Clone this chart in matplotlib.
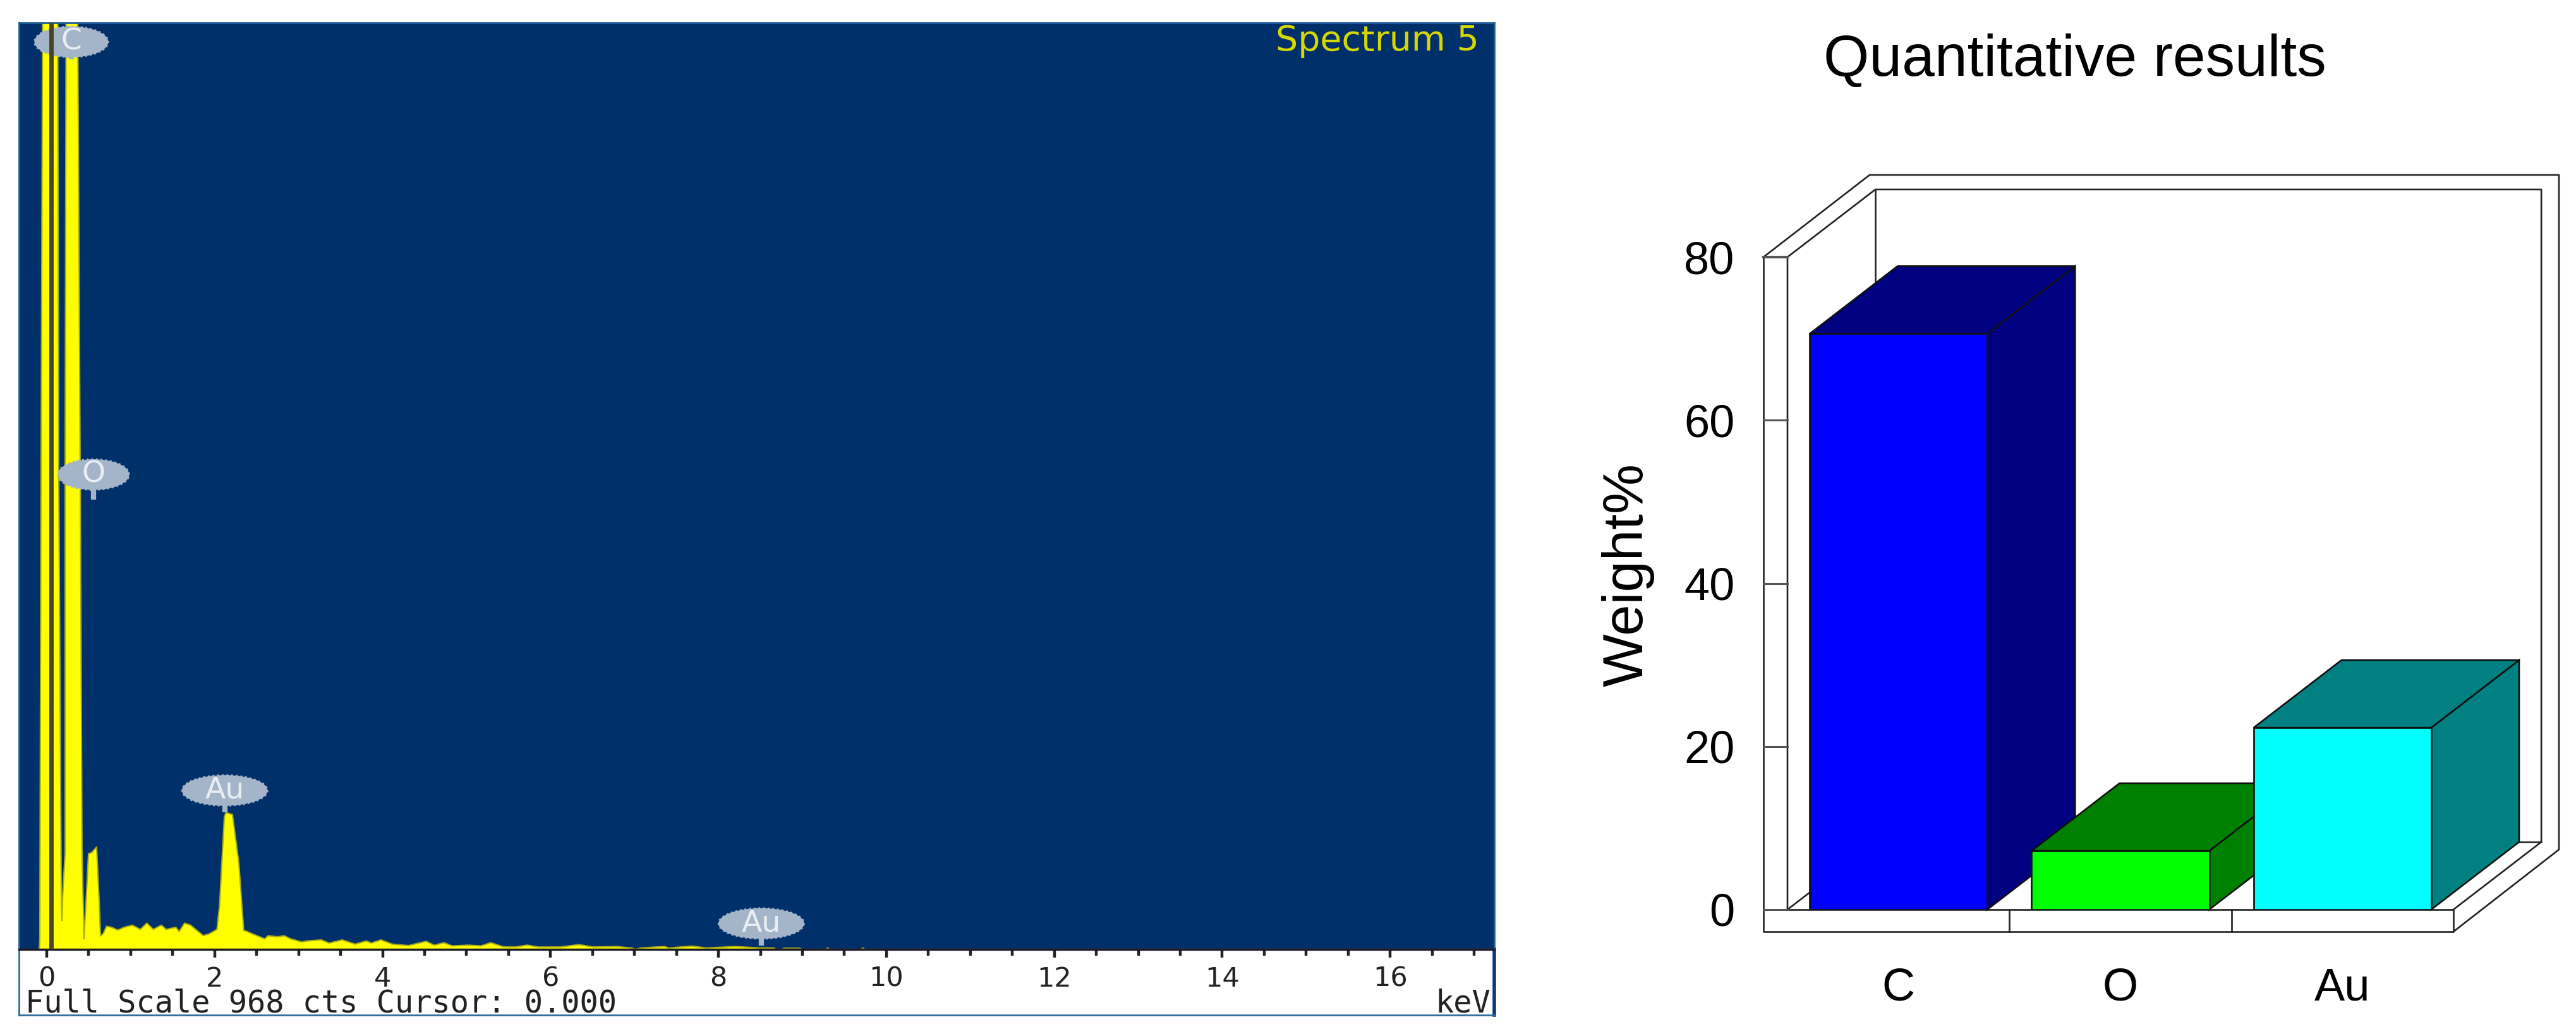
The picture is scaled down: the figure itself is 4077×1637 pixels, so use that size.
import matplotlib
matplotlib.use("Agg")
import matplotlib.pyplot as plt
from matplotlib.patches import Ellipse, Polygon

W, H = 4077, 1637

# EDS spectrum (keV, counts)
energy = [-0.09, -0.083, -0.068, -0.045, 0.128, 0.143, 0.173, 0.18, 0.192, 0.218, 0.218, 0.233,
          0.361, 0.399, 0.421, 0.444, 0.474, 0.497, 0.534, 0.594, 0.625, 0.64,
          0.673, 0.712, 0.769, 0.846, 0.923, 1.019, 1.115, 1.192, 1.269, 1.365, 1.423, 1.538,
          1.577, 1.642, 1.712, 1.865, 1.942, 2.027, 2.058, 2.115, 2.135, 2.212, 2.288, 2.346,
          2.385, 2.442, 2.596, 2.635, 2.75, 2.827, 2.904, 3.038, 3.096, 3.269, 3.365, 3.519,
          3.673, 3.808, 3.865, 3.981, 4.115, 4.308, 4.519, 4.615, 4.731, 4.827, 5.019, 5.173,
          5.288, 5.442, 5.585, 5.72, 5.855, 6.12, 6.335, 6.51, 6.78, 6.97, 7.01, 7.07, 7.355,
          7.41, 7.68, 7.855, 8.2, 8.5, 8.66, 8.68, 8.76, 8.78, 8.97, 8.99, 9.28, 9.3, 9.32,
          9.7, 9.72, 9.74, 17.3]
counts = [0, 10, 496, 1100, 1100, 496, 60, 30, 60, 100, 496, 1100,
          1100, 496, 100, 11, 60, 100, 101, 107, 50, 14,
          16.5, 24.2, 23.1, 20.2, 23.1, 25.3, 20.9, 27.5, 20.9, 25.3, 20.9, 23.1,
          18.7, 27.5, 25.3, 14.3, 16.5, 20.9, 46.2, 138.6, 143, 140.8, 90.2, 19.8,
          18.7, 16.5, 11, 14.3, 13.2, 14.3, 11, 7.7, 8.8, 9.9, 6.6, 9.9,
          5.5, 8.8, 6.6, 9.9, 5.5, 4, 8.4, 4.4, 7, 3.7, 4.4, 3.7,
          7, 2.6, 2.5, 4.5, 2.5, 2.5, 5, 2.5, 3, 1.5, 0, 1.5, 3,
          1.5, 3.5, 1.5, 3, 1.5, 1.5, 0, 0, 1.2, 1.2, 0, 0, 1.5, 0,
          0, 1.5, 0, 0]

peak_names = ["C", "O", "Au", "Au"]
peak_energy = [0.293, 0.557, 2.12, 8.51]
peak_label_cts = [948, 496, 166, 27]
peak_stem_cts = [930, 470, 143, 4]
peak_width = [0.88, 0.85, 1.02, 1.02]

spec_ticks = [0, 2, 4, 6, 8, 10, 12, 14, 16]
spec_minor = [x * 0.5 for x in range(0, 35) if x % 4 != 0]

# quantitative results
elements = ["C", "O", "Au"]
weights = [70.6, 7.2, 22.3]
front_colors = ["#0000FF", "#00FF00", "#00FFFF"]
dark_colors = ["#000080", "#008000", "#008080"]
weight_ticks = [0, 20, 40, 60, 80]


def px_axes(x0, y0, x1, y1, **kw):
    return fig.add_axes([x0 / W, 1 - y1 / H, (x1 - x0) / W, (y1 - y0) / H], **kw)


plt.rcParams['font.family'] = ['DejaVu Sans']
fig = plt.figure(figsize=(W / 100, H / 100), dpi=100, facecolor="white")

# white strip under the spectrum
strip = px_axes(30, 1503, 2365, 1607, facecolor="white")
strip.set_xticks([])
strip.set_yticks([])
for s in strip.spines.values():
    s.set_color("#2F6BA0")
    s.set_linewidth(2)
strip.spines["right"].set_color("#0A3C78")
strip.spines["right"].set_linewidth(4)
strip.text(10 / 2335, 0.18, "Full Scale 968 cts Cursor: 0.000", transform=strip.transAxes,
           fontsize=35, family="DejaVu Sans Mono", color="#222222", va="center", ha="left")
strip.text(0.9975, 0.18, "keV", transform=strip.transAxes, fontsize=35, family="DejaVu Sans Mono",
           color="#222222", va="center", ha="right")

ax = px_axes(30, 36, 2365, 1503, facecolor="#003069")
ax.set_xlim(-0.331, 17.24)
ax.set_ylim(0, 968)
ax.fill_between(energy, counts, 0, color="#FFFF00", lw=1.5, edgecolor="#A8A818", zorder=2)
ax.set_xticks(spec_ticks)
ax.set_xticks(spec_minor, minor=True)
ax.set_yticks([])
ax.tick_params(axis="x", which="major", length=9.5, width=3.2, color="#222222", pad=9,
               labelsize=31, labelcolor="#222222")
ax.tick_params(axis="x", which="minor", length=7, width=3.2, color="#222222")
for s in ["top", "left", "right"]:
    ax.spines[s].set_color("#1F6096")
    ax.spines[s].set_linewidth(2)
ax.spines["bottom"].set_color("#1B1B28")
ax.spines["bottom"].set_linewidth(2.5)

for name, e, c, st, w in zip(peak_names, peak_energy, peak_label_cts, peak_stem_cts, peak_width):
    ax.add_patch(Ellipse((e, c), w, 32, facecolor="#A5B5C9", edgecolor="#A5B5C9", lw=2,
                         ls=":", zorder=3))
    ax.plot([e, e], [c, st], color="#A5B5C9", lw=6, solid_capstyle="butt", zorder=3)
    ax.text(e, c, name, color="#E9EEF3", fontsize=34, ha="center", va="center", zorder=5)
ax.axvline(0.05, color="#4A4420", lw=5, zorder=4)
ax.text(0.9895, 0.9985, "Spectrum 5", transform=ax.transAxes, fontsize=40, color="#D6D600",
        ha="right", va="top", zorder=5)

# 3D style bar chart, wall and floor drawn from the same scales as the bars
bx = px_axes(2829, 407, 3883, 1440)
bx.patch.set_visible(False)
bx.set_xlim(0, 3)
bx.set_ylim(0, 80)
for s in bx.spines.values():
    s.set_visible(False)

dx, dy = 0.396, 8.29       # depth of inner frame and bars
ox, oy = 0.478, 10.07      # depth of outer frame
wall, foot = 0.108, 2.71   # wall and floor thickness
line = dict(color="#222222", lw=1.9, clip_on=False, zorder=1, solid_capstyle="projecting")

bx.plot([-wall, -wall, 3, 3, 0], [80, -foot, -foot, 0, 0], **line)
bx.plot([0, 0, dx, 3 + dx, 3 + dx, 3], [0, 80, 80 + dy, 80 + dy, dy, 0], **line)
bx.plot([-wall, -wall + ox, 3 + (4050 - 3883) / 351.33, 3 + (4050 - 3883) / 351.33, 3],
        [80, 80 + oy, 80 + oy, -foot + oy, -foot], **line)
bx.plot([dx, dx, 3 + dx], [80 + dy, dy, dy], **line)
bx.plot([0, dx], [0, dy], **line)
bx.plot([1, 1], [0, -foot], **line)
bx.plot([2, 2], [0, -foot], **line)
bx.plot([-wall, 0], [80, 80], color="#555555", lw=3, clip_on=False, zorder=1)
for t in weight_ticks[:-1]:
    bx.plot([-wall, 0], [t, t], color="#555555", lw=2.2, clip_on=False, zorder=1)

bars = bx.bar([0.5, 1.5, 2.5], weights, width=0.8, color=front_colors, edgecolor="#101010",
              linewidth=1.9, zorder=3)
for i, (rect, v) in enumerate(zip(bars, weights)):
    z = 3 + i
    rect.set_zorder(z + 0.5)
    x0, x1 = rect.get_x(), rect.get_x() + rect.get_width()
    bx.add_patch(Polygon([(x1, 0), (x1 + dx, dy), (x1 + dx, v + dy), (x1, v)], closed=True,
                         facecolor=dark_colors[i], edgecolor="#101010", lw=1.9, zorder=z,
                         clip_on=False))
    bx.add_patch(Polygon([(x0, v), (x0 + dx, v + dy), (x1 + dx, v + dy), (x1, v)], closed=True,
                         facecolor=dark_colors[i], edgecolor="#101010", lw=1.9, zorder=z,
                         clip_on=False))

bx.set_yticks(weight_ticks)
bx.set_yticklabels([str(t) for t in weight_ticks])
bx.set_xticks([0.5, 1.5, 2.5])
bx.set_xticklabels(elements)
bx.tick_params(axis="y", length=0, pad=60, labelsize=52)
bx.tick_params(axis="x", length=0, pad=66, labelsize=52)
for lab in bx.get_xticklabels() + bx.get_yticklabels():
    lab.set_family("Liberation Sans")
bx.set_ylabel("Weight%", fontsize=64, family="Liberation Sans")
bx.yaxis.set_label_coords(-0.20, 0.513)
fig.text(3284 / W, 1 - 96 / H, "Quantitative results", fontsize=67, family="Liberation Sans",
         ha="center", va="center", color="black")

fig.savefig("out.png", dpi=100)
